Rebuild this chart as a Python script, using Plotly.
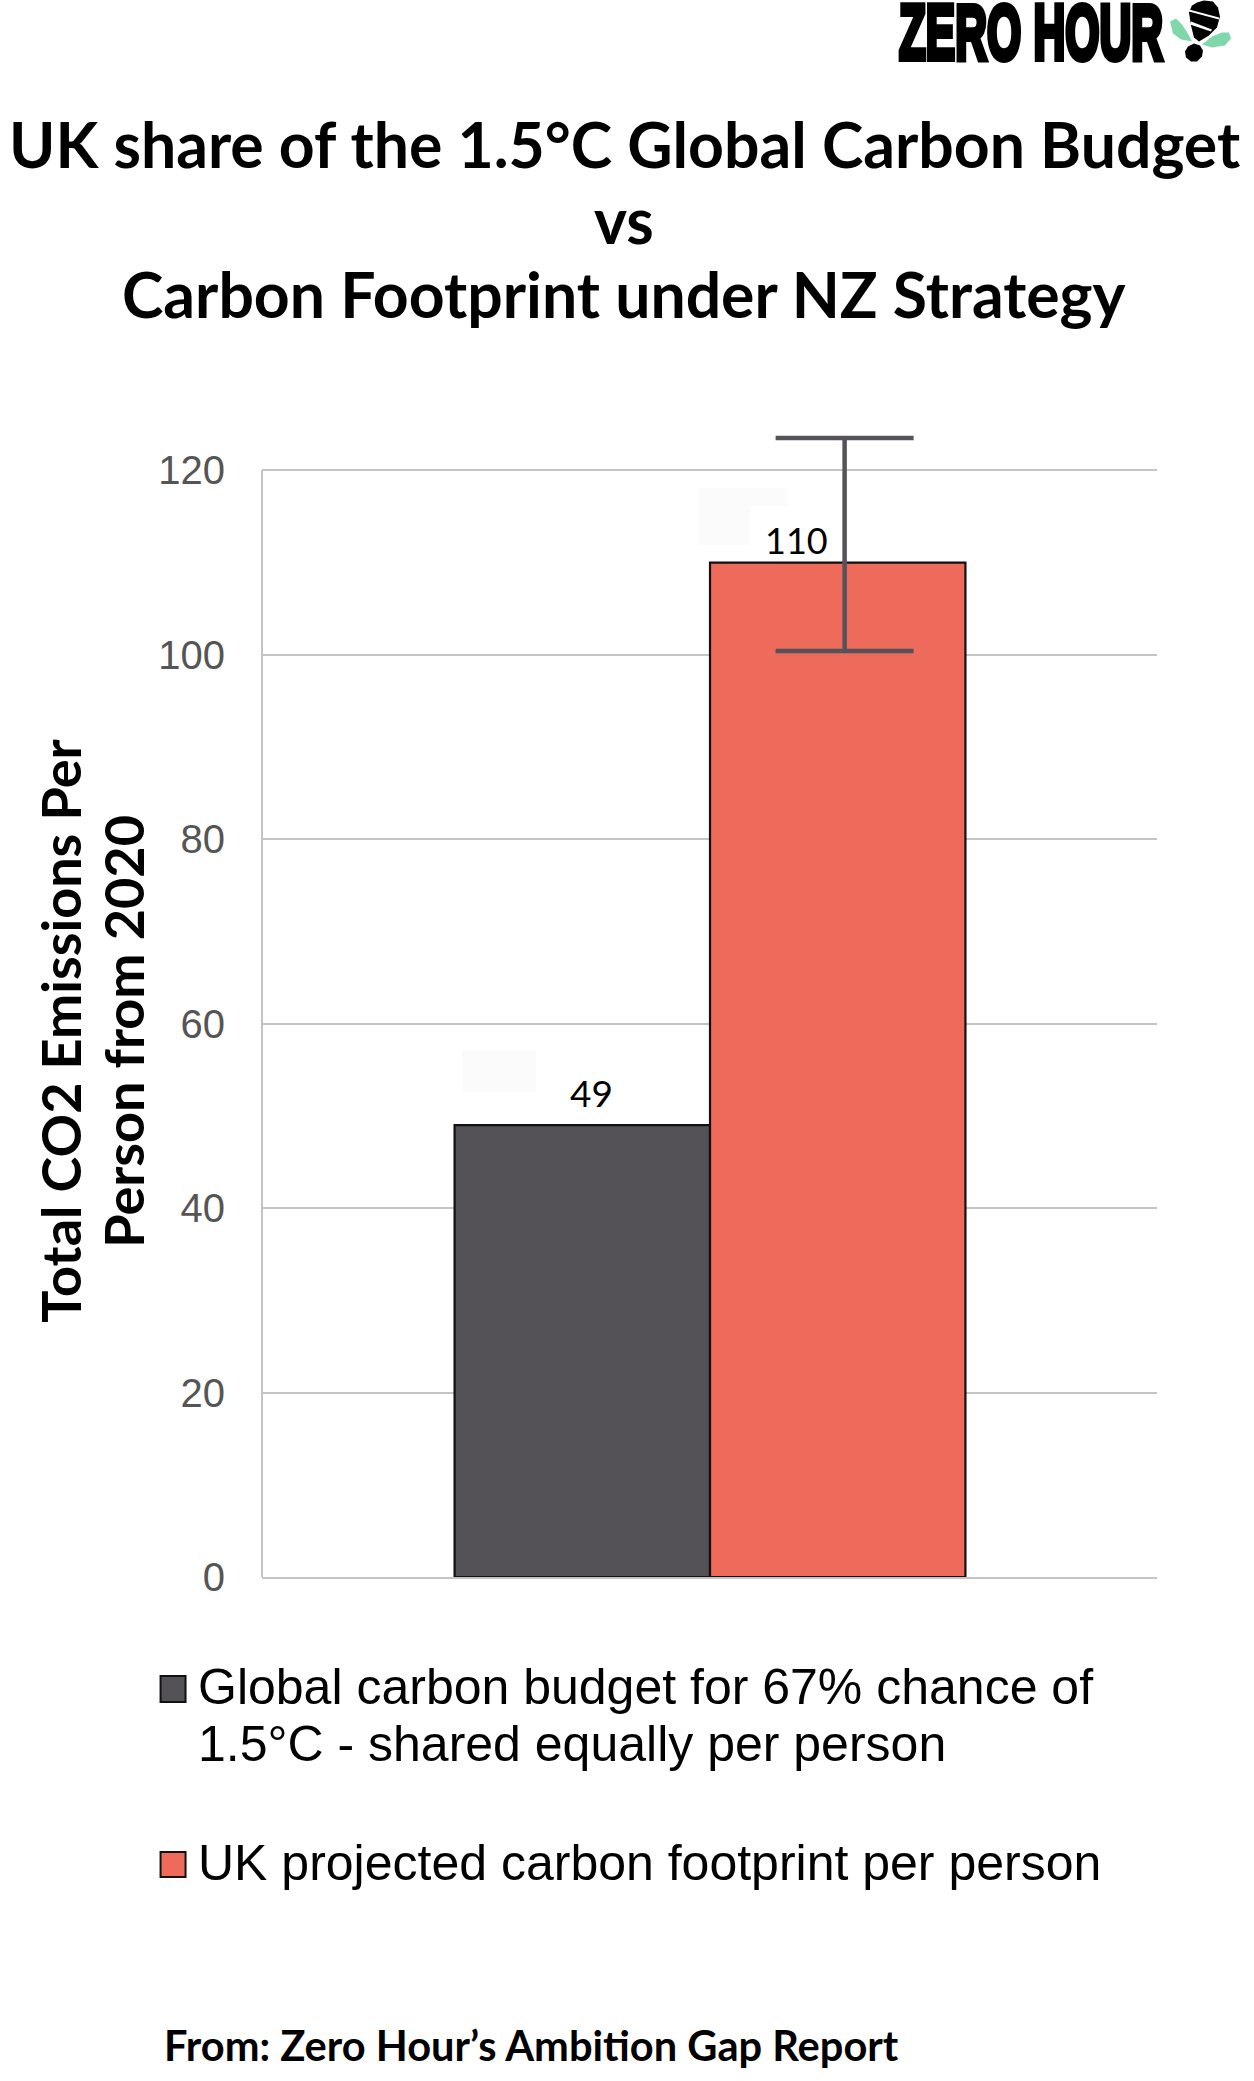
import plotly.graph_objects as go

# Chart data
legend_lines = [["Global carbon budget for 67% chance of", "1.5°C - shared equally per person"],
                ["UK projected carbon footprint per person"]]
bar_positions = [0, 1]
bar_values = [49, 110]
bar_labels = ["49", "110"]
bar_colors = ["#545157", "#ee6b5b"]
error_center = [1.027]
error_value = [110]
error_plus = [13.5]
error_minus = [9.6]
y_ticks = [0, 20, 40, 60, 80, 100, 120]

title_lines = ["UK share of the 1.5°C Global Carbon Budget", "vs", "Carbon Footprint under NZ Strategy"]
y_title_lines = ["Total CO2 Emissions Per", "Person from 2020"]
source_text = "From: Zero Hour’s Ambition Gap Report"
logo_text = "ZERO HOUR"

W, H = 1254, 2081
L, R, T, B = 261.5, 1157, 414.6, 1577
Y_TOP = 126


def px(x):
    return (x - L) / (R - L)


def py(y):
    return (B - y) / (B - T)


def note(x, y, text, size, family, color="#000000", weight=400, xanchor="center", angle=0, align="center"):
    return dict(xref="paper", yref="paper", x=px(x), y=py(y), text=text, showarrow=False,
                font=dict(size=size, family=family, color=color, weight=weight),
                xanchor=xanchor, yanchor="middle", textangle=angle, align=align, borderpad=0, borderwidth=0)


def path(points, fill):
    d = "M " + " L ".join(f"{px(a):.5f},{py(b):.5f}" for a, b in points) + " Z"
    return dict(type="path", xref="paper", yref="paper", path=d, fillcolor=fill,
                line=dict(width=0), layer="above")


def rect(x0, y0, x1, y1, fill, line_color=None, line_width=0, layer="above"):
    return dict(type="rect", xref="paper", yref="paper", x0=px(x0), x1=px(x1), y0=py(y0), y1=py(y1),
                fillcolor=fill, line=dict(color=line_color or fill, width=line_width), layer=layer)


fig = go.Figure()

# One bar per series, side by side
for i in range(2):
    fig.add_trace(go.Bar(
        x=[bar_positions[i]], y=[bar_values[i]], width=1, name=" ".join(legend_lines[i]),
        marker=dict(color=bar_colors[i], line=dict(color="#111111", width=2.2)),
        showlegend=False, hoverinfo="skip",
    ))

# Uncertainty whisker on the footprint bar
fig.add_trace(go.Scatter(
    x=error_center, y=error_value, mode="markers", marker=dict(size=1, color="rgba(0,0,0,0)"),
    error_y=dict(type="data", symmetric=False, array=error_plus, arrayminus=error_minus,
                 color="#55525a", thickness=4.5, width=69),
    cliponaxis=False, showlegend=False, hoverinfo="skip",
))

annotations = []
# Value labels
annotations.append(note(591, 1092, bar_labels[0], 37, "Lato"))
annotations.append(note(796, 540, bar_labels[1], 36, "Lato"))

# Title block
for text, y in zip(title_lines, [143, 219, 293]):
    annotations.append(note(624, y, text, 62.5, "Lato", weight=700))

# Axis title, one rotated line each
for text, x in zip(y_title_lines, [60, 123]):
    annotations.append(note(x, 1031, text, 54, "Lato", weight=700, angle=-90))

# Legend text
for text, y in zip(legend_lines[0] + legend_lines[1], [1687, 1744, 1863]):
    annotations.append(note(197, y, text, 50, "Liberation Sans", xanchor="left", align="left"))

# Source line
annotations.append(note(531, 2045, source_text, 41.6, "Lato", weight=700))

# Wordmark
annotations.append(note(1031, 31, logo_text, 46, "Liberation Sans", weight=700))

shapes = [
    # Faint pale patches beside the value labels
    rect(697, 488, 787, 506, "#fbfbfb", layer="below"),
    rect(697, 506, 750, 545, "#fbfbfb", layer="below"),
    rect(462, 1050, 536, 1092, "#fbfbfb", layer="below"),
    # Left axis line stops at the top tick
    dict(type="line", xref="paper", yref="y", x0=0, x1=0, y0=0, y1=y_ticks[-1],
         line=dict(color="#c4c4c4", width=2), layer="below"),
    # Legend swatches
    rect(160, 1676, 185, 1702, bar_colors[0], "#111111", 2),
    rect(160, 1852, 185, 1877, bar_colors[1], "#111111", 2),
    # Logo mark: leaves, body, stripes and head
    path([(1170, 21), (1176, 18), (1182, 24), (1188, 33), (1192, 41), (1181, 39), (1173, 33)], "#80d8aa"),
    path([(1202, 44), (1212, 36), (1222, 32), (1229, 32), (1231, 38), (1225, 45), (1212, 47)], "#80d8aa"),
    path([(1197, 2), (1204, 0), (1213, 1), (1218, 7), (1220, 16), (1217, 27), (1209, 35), (1199, 41), (1194, 37), (1191, 25), (1189, 12), (1192, 5)], "#000000"),
    path([(1189, 11), (1219, 19), (1219, 17), (1189, 9)], "#ffffff"),
    path([(1190, 24), (1211, 31), (1212, 29), (1191, 21)], "#ffffff"),
    path([(1194, 43), (1200, 45), (1203, 50), (1202, 56), (1197, 61), (1191, 61), (1186, 57), (1185, 51), (1188, 46)], "#000000"),
]

fig.update_layout(
    width=W, height=H, autosize=False,
    margin=dict(l=L, r=W - R, t=T, b=H - B, pad=0),
    paper_bgcolor="white", plot_bgcolor="white",
    barmode="overlay",
    xaxis=dict(range=[-1.254, 2.25], showgrid=False, zeroline=False, showticklabels=False, ticks="",
               showline=True, linecolor="#c4c4c4", linewidth=2),
    yaxis=dict(range=[0, Y_TOP], tickvals=y_ticks, showgrid=True, gridcolor="#c4c4c4", gridwidth=2,
               zeroline=False, showline=False, ticks="",
               ticklabelstandoff=36,
               tickfont=dict(size=40, family="Liberation Sans", color="#555555")),
    annotations=annotations, shapes=shapes,
)

# Condense and thicken the wordmark into a tall, narrow logotype
condense = """
var gd = document.getElementsByClassName('plotly-graph-div')[0];
gd.querySelectorAll('.annotation-text').forEach(function (t) {
  if (t.textContent === 'ZERO HOUR') {
    t.setAttribute('textLength', '264');
    t.setAttribute('lengthAdjust', 'spacingAndGlyphs');
    t.style.stroke = '#000';
    t.style.strokeWidth = '3.5px';
    t.style.transformBox = 'fill-box';
    t.style.transformOrigin = 'center';
    t.style.transform = 'scaleY(1.68)';
  }
});
"""

fig.write_html("out.html", post_script=condense, config=dict(displayModeBar=False))
